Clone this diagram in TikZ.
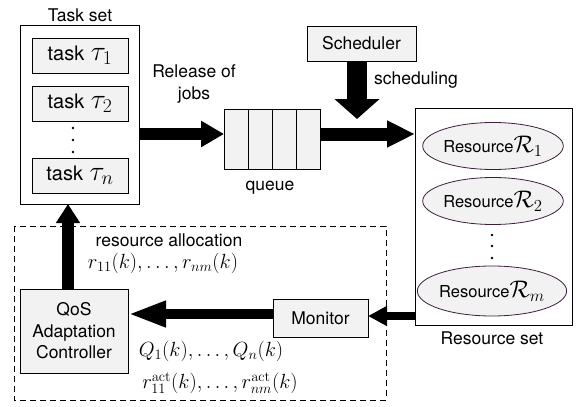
\RequirePackage{fix-cm}
\documentclass[tikz,border=0pt]{standalone}
\usepackage{amsmath,amssymb}
\usepackage[no-math]{fontspec}
\setmainfont{TeX Gyre Heros}
\usepackage{xcolor}
\usepackage{tikz}
\usetikzlibrary{arrows.meta,positioning,shapes.geometric}

\definecolor{boxfill}{RGB}{242,242,242}
\definecolor{ellline}{RGB}{60,30,60}

\begin{document}
\begin{tikzpicture}[x=1pt, y=-1pt,
    lbl/.style={font=\fontsize{17.5}{22}\selectfont, inner sep=0pt, align=center},
    mlbl/.style={font=\fontsize{20.5}{22}\selectfont, inner sep=0pt},
    box/.style={draw, line width=0.8pt, fill=boxfill, inner sep=0pt, outer sep=0pt,
      font=\fontsize{17.5}{21.5}\selectfont, align=center},
    taskbox/.style={box, minimum width=96pt, minimum height=35pt,
      font=\fontsize{20}{22}\selectfont},
    resbox/.style={draw=ellline, line width=0.8pt, fill=boxfill, ellipse,
      inner sep=0pt, outer sep=0pt, minimum width=133pt, minimum height=47pt,
      font=\fontsize{16.5}{20}\selectfont},
    fat/.style n args={3}{line width=#1, -{Triangle[length=#2, width=#3]}}]
  \useasboundingbox (0,0) rectangle (576,407);

  % task set
  \node[draw, line width=0.8pt, inner sep=0pt, outer sep=0pt,
    minimum width=119pt, minimum height=179pt] (taskset) at (79.5,114.5) {};
  \node[lbl] (tasklbl) at (80,15) {Task set};
  \node[taskbox] (t1) at (80,55.5) {task\,\,{\fontsize{28}{28}\selectfont$\tau_1$}};
  \node[taskbox] (t2) at (80,103.5) {task\,\,{\fontsize{28}{28}\selectfont$\tau_2$}};
  \node[taskbox] (tn) at (80,175.5) {task\,\,{\fontsize{28}{28}\selectfont$\tau_n$}};
  \foreach \y in {128,140,152}
    \fill (73,\y) circle (1.4pt);

  % queue
  \node[box, minimum width=96pt, minimum height=60pt] (queue) at (272,139) {};
  \foreach \x in {248,272,296}
    \draw[line width=0.8pt] (\x,109) -- (\x,169);
  \node[lbl] (qlbl) at (270,188) {queue};
  \node[lbl] (rel) at (194,84) {Release of\\jobs};

  % scheduler
  \node[box, minimum width=109pt, minimum height=35pt] (sched) at (361.5,43.5) {Scheduler};
  \node[lbl] (schedlbl) at (416,80) {scheduling};

  % resource set
  \node[draw, line width=0.8pt, inner sep=0pt, outer sep=0pt,
    minimum width=157pt, minimum height=217pt] (resset) at (493.5,216.5) {};
  \node[resbox] (r1) at (493,146)
    {Resource{\fontsize{24}{24}\selectfont$\mathcal{R}_1$}};
  \node[resbox] (r2) at (493,201)
    {Resource{\fontsize{24}{24}\selectfont$\mathcal{R}_2$}};
  \node[resbox, minimum height=50pt] (rm) at (492,291)
    {Resource{\fontsize{24}{24}\selectfont$\mathcal{R}_m$}};
  \foreach \y in {235,246,258}
    \fill (492,\y) circle (1.4pt);
  \node[lbl] (reslbl) at (492,338) {Resource set};

  % feedback loop
  \draw[line width=0.8pt, dash pattern=on 6pt off 4pt] (14,226) rectangle (386,400);
  \node[box, minimum width=108pt, minimum height=84pt] (qos) at (74,331)
    {QoS\\Adaptation\\Controller};
  \node[box, minimum width=95pt, minimum height=38pt] (mon) at (320.5,318) {Monitor};
  \node[lbl] (alloclbl) at (169,240) {resource allocation};
  \node[mlbl] (alloc) at (163,263) {$r_{11}(k),\ldots,r_{nm}(k)$};
  \node[mlbl] (qlen) at (211,351) {$Q_1(k),\ldots,Q_n(k)$};
  \node[mlbl] (ract) at (220,383)
    {$r^{\mathrm{act}}_{11}(k),\ldots,r^{\mathrm{act}}_{nm}(k)$};

  % arrows
  \coordinate (midy) at (0,134);
  \coordinate (schtip) at (357,119);
  \coordinate (upx) at (68,0);
  \coordinate (fby) at (0,316);
  \coordinate (fby2) at (0,314);
  \draw[fat={12pt}{23pt}{25pt}] (taskset.east |- midy) -- (queue.west |- midy);
  \draw[fat={13pt}{28pt}{25pt}] (queue.east |- midy) -- (resset.west |- midy);
  \draw[fat={20pt}{20pt}{44pt}] (sched.south -| schtip) -- (schtip);
  \draw[fat={8pt}{19pt}{19pt}] (resset.west |- fby) -- (mon.east |- fby);
  \draw[fat={10pt}{38pt}{24pt}] (mon.west |- fby2) -- (qos.east |- fby2);
  \draw[fat={12pt}{19pt}{23pt}] (qos.north -| upx) -- (taskset.south -| upx);
\end{tikzpicture}
\end{document}
